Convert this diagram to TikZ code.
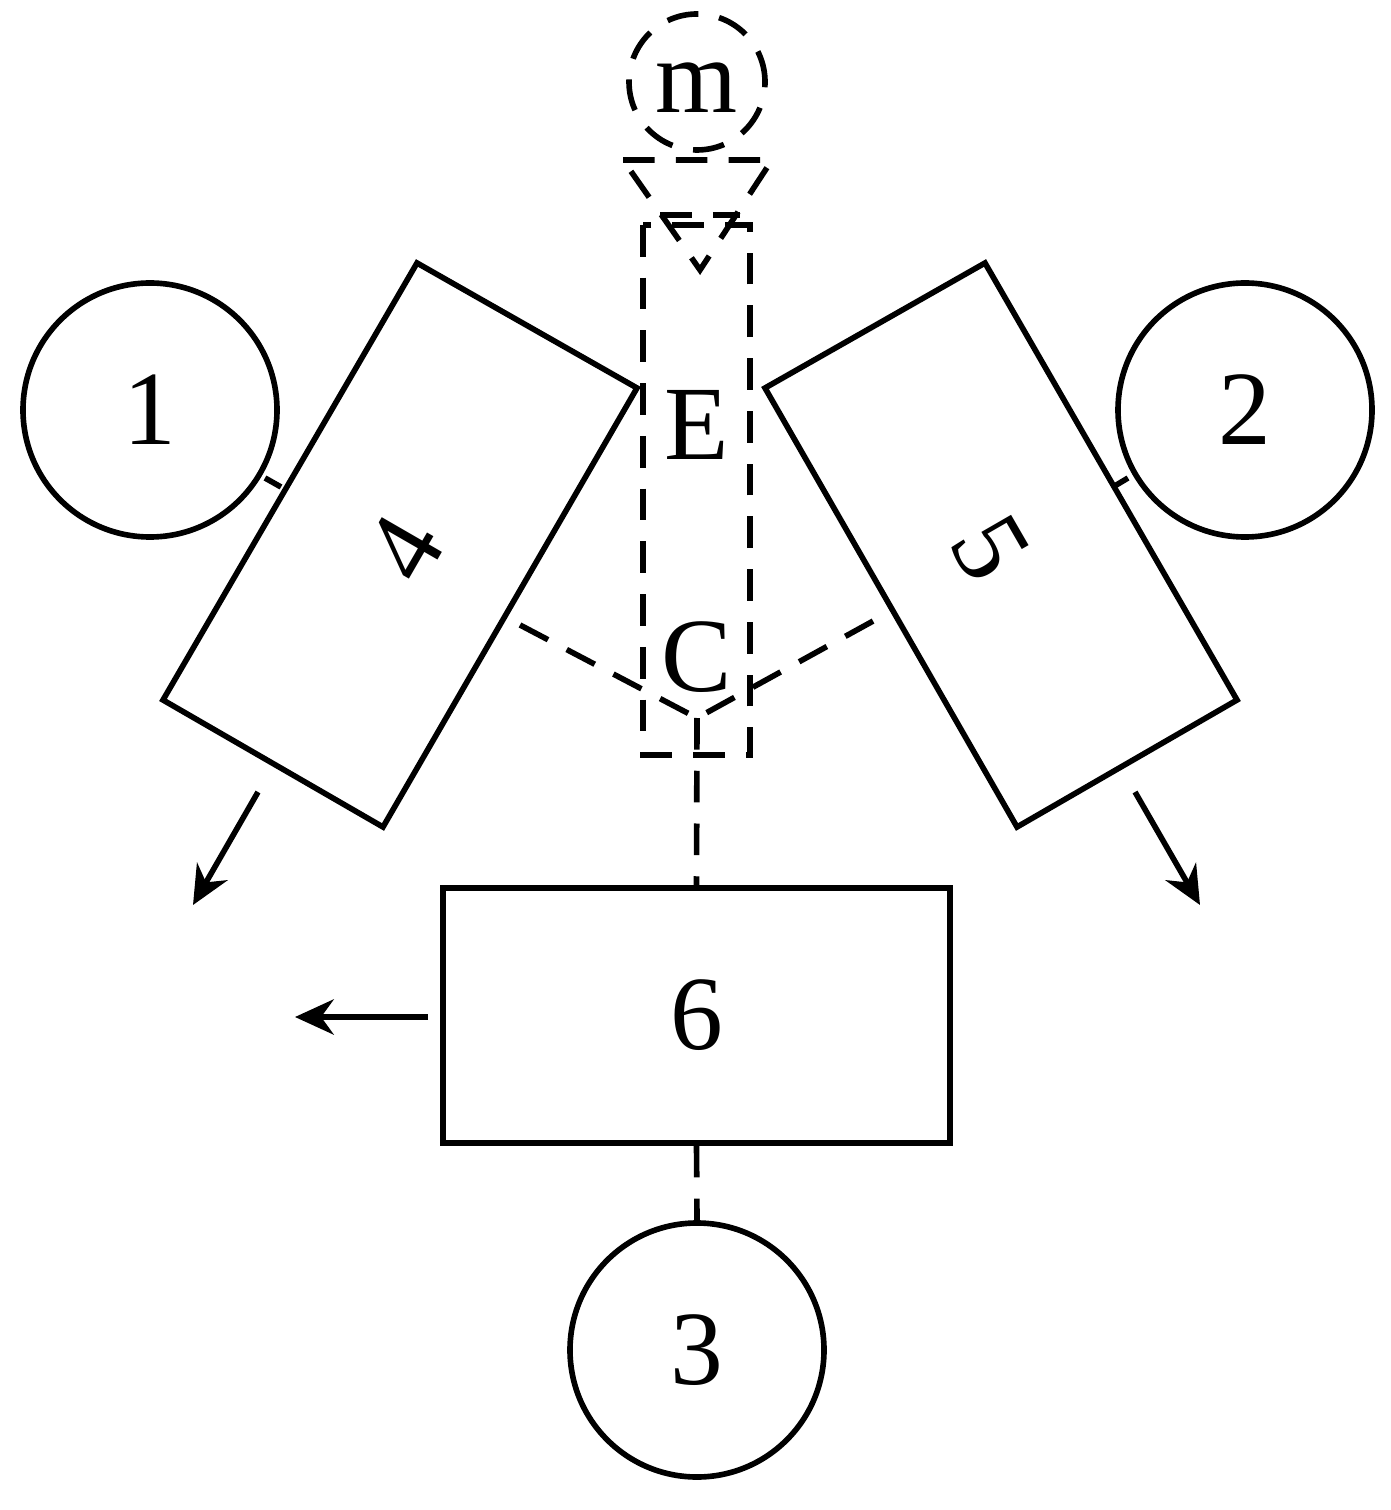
\documentclass[tikz,border=0pt]{standalone}
\usepackage{fontspec}
\setmainfont{Liberation Serif}
\usetikzlibrary{arrows.meta}
\begin{document}
\begin{tikzpicture}[x=0.01cm,y=-0.01cm,
  ln/.style={line width=1.6pt},
  dsh/.style={line width=1.6pt,dash pattern=on 9pt off 6pt},
  circ/.style={draw,circle,line width=1.6pt,minimum size=254*0.01cm,inner sep=0pt},
  lbl/.style={font=\fontsize{30}{30}\selectfont,inner sep=0pt},
  arr/.style={line width=1.6pt,-{Stealth[length=11pt,width=10pt]}}]
\useasboundingbox (0,0) rectangle (1390,1510);
\node[circ,lbl] (c1) at (150,410) {1};
\node[circ,lbl] (c2) at (1245,410) {2};
\node[circ,lbl] (c3) at (697,1350) {3};
\node[draw,ln,lbl,minimum width=507*0.01cm,minimum height=255*0.01cm] (b6) at (696.5,1015.5) {6};
% rotated boxes
\draw[ln] (417,263) -- (637,388) -- (383,827) -- (163,700) -- cycle;
\draw[ln] (985,263) -- (765,388) -- (1017,827) -- (1237,700) -- cycle;
\node[lbl,rotate=60] (l4) at (405,548) {4};
\node[lbl,rotate=-60] (l5) at (990,548) {5};
\draw[ln] (265,478) -- (281,487);
\draw[ln] (1128,478) -- (1113,487);
% dashed parts
\node[draw,dsh,circle,minimum size=136*0.01cm,inner sep=0pt] (m) at (697,82) {};
\node[lbl] (ml) at (697,88) {m};
\draw[dsh] (623,160) -- (772,160) -- (700,270) -- cycle;
\draw[dsh] (660,215) -- (740,215);
\draw[dsh] (643,225) rectangle (750,755);
\node[lbl] (E) at (697,425) {E};
\node[lbl] (C) at (697,657) {C};
\coordinate (o) at (697,718);
\coordinate (p4) at (520,625);
\coordinate (p5) at (875,620);
\draw[dsh] (p4) -- (o) -- (p5);
\draw[dsh] (o) -- (b6.north);
\draw[dsh] (b6.south) -- (c3.north);
% arrows
\coordinate (a1) at (258,792); \coordinate (a1e) at (193,905);
\coordinate (a2) at (1135,792); \coordinate (a2e) at (1200,905);
\coordinate (a3) at (428,1017); \coordinate (a3e) at (295,1017);
\draw[arr] (a1) -- (a1e);
\draw[arr] (a2) -- (a2e);
\draw[arr] (a3) -- (a3e);
\end{tikzpicture}
\end{document}
